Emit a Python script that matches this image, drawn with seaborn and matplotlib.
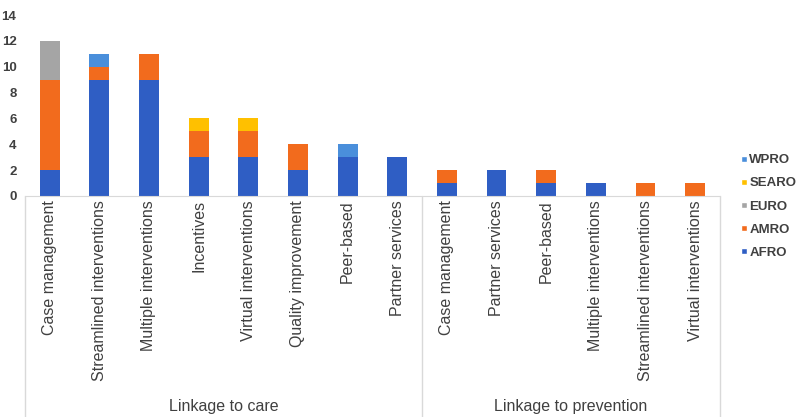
import numpy as np
import pandas as pd
import matplotlib
matplotlib.use("Agg")
import matplotlib.pyplot as plt
from matplotlib.lines import Line2D
import seaborn as sns

# categories (two groups of interventions)
care_labels = ["Case management", "Streamlined interventions", "Multiple interventions",
               "Incentives", "Virtual interventions", "Quality improvement",
               "Peer-based", "Partner services"]
prev_labels = ["Case management", "Partner services", "Peer-based",
               "Multiple interventions", "Streamlined interventions", "Virtual interventions"]
labels = care_labels + prev_labels
groups = ["Linkage to care", "Linkage to prevention"]

# counts per WHO region (stack order bottom -> top)
regions = ["AFRO", "AMRO", "EURO", "SEARO", "WPRO"]
afro = [2, 9, 9, 3, 3, 2, 3, 3, 1, 2, 1, 1, 0, 0]
amro = [7, 1, 2, 2, 2, 2, 0, 0, 1, 0, 1, 0, 1, 1]
euro = [3, 0, 0, 0, 0, 0, 0, 0, 0, 0, 0, 0, 0, 0]
searo = [0, 0, 0, 1, 1, 0, 0, 0, 0, 0, 0, 0, 0, 0]
wpro = [0, 1, 0, 0, 0, 0, 1, 0, 0, 0, 0, 0, 0, 0]

colors = {"AFRO": "#2F5EC4", "AMRO": "#F26B1D", "EURO": "#A5A5A5",
          "SEARO": "#FFC000", "WPRO": "#4A8FDB"}

df = pd.DataFrame({"AFRO": afro, "AMRO": amro, "EURO": euro,
                   "SEARO": searo, "WPRO": wpro})
df["pos"] = np.arange(len(labels))
cum = df[regions].cumsum(axis=1)

sns.set_style("white")
plt.rcParams["font.family"] = ["Liberation Sans", "DejaVu Sans"]

fig = plt.figure(figsize=(8, 4.17), dpi=100)
ax = fig.add_axes([0.031, 0.53, 0.869, 0.434])

# draw cumulative totals from the top layer down so they overlap as a stack
for reg in reversed(regions):
    sns.barplot(x=df["pos"], y=cum[reg], color=colors[reg], width=0.4,
                saturation=1, linewidth=0, ax=ax)

ax.set_xlim(-0.5, len(labels) - 0.5)
ax.set_ylim(0, 14)
ax.set_yticks(range(0, 15, 2))
ax.set_xticks(range(len(labels)))
ax.set_xticklabels(labels, rotation=90, fontsize=11.5, color="#404040")
ax.tick_params(axis="y", labelsize=9.5, labelcolor="#404040", length=0, pad=6)
ax.tick_params(axis="x", length=0, pad=3)
for t in ax.get_yticklabels():
    t.set_fontweight("bold")
ax.set_xlabel("")
ax.set_ylabel("")
for s in ["top", "right", "left"]:
    ax.spines[s].set_visible(False)
ax.spines["bottom"].set_color("#D9D9D9")

# group separators and group labels below the axis
ybot = -1.22
for xs in [-0.5, 7.5, 13.5]:
    ax.plot([xs, xs], [0, ybot], transform=ax.get_xaxis_transform(),
            color="#D9D9D9", lw=1, clip_on=False)
ax.text(3.5, -1.165, groups[0], transform=ax.get_xaxis_transform(),
        ha="center", va="center", fontsize=11.5, color="#404040")
ax.text(10.5, -1.165, groups[1], transform=ax.get_xaxis_transform(),
        ha="center", va="center", fontsize=11.5, color="#404040")

handles = [Line2D([0], [0], marker="s", color="w", markerfacecolor=colors[r],
                  markersize=5, label=r) for r in reversed(regions)]
leg = fig.legend(handles=handles, loc="center left", bbox_to_anchor=(0.922, 0.505),
                 frameon=False, handletextpad=0.0, handlelength=0.9,
                 borderaxespad=0, borderpad=0,
                 labelspacing=0.82, prop={"size": 9.5, "weight": "bold"})
for t in leg.get_texts():
    t.set_color("#404040")

fig.savefig("out.png", dpi=100)
